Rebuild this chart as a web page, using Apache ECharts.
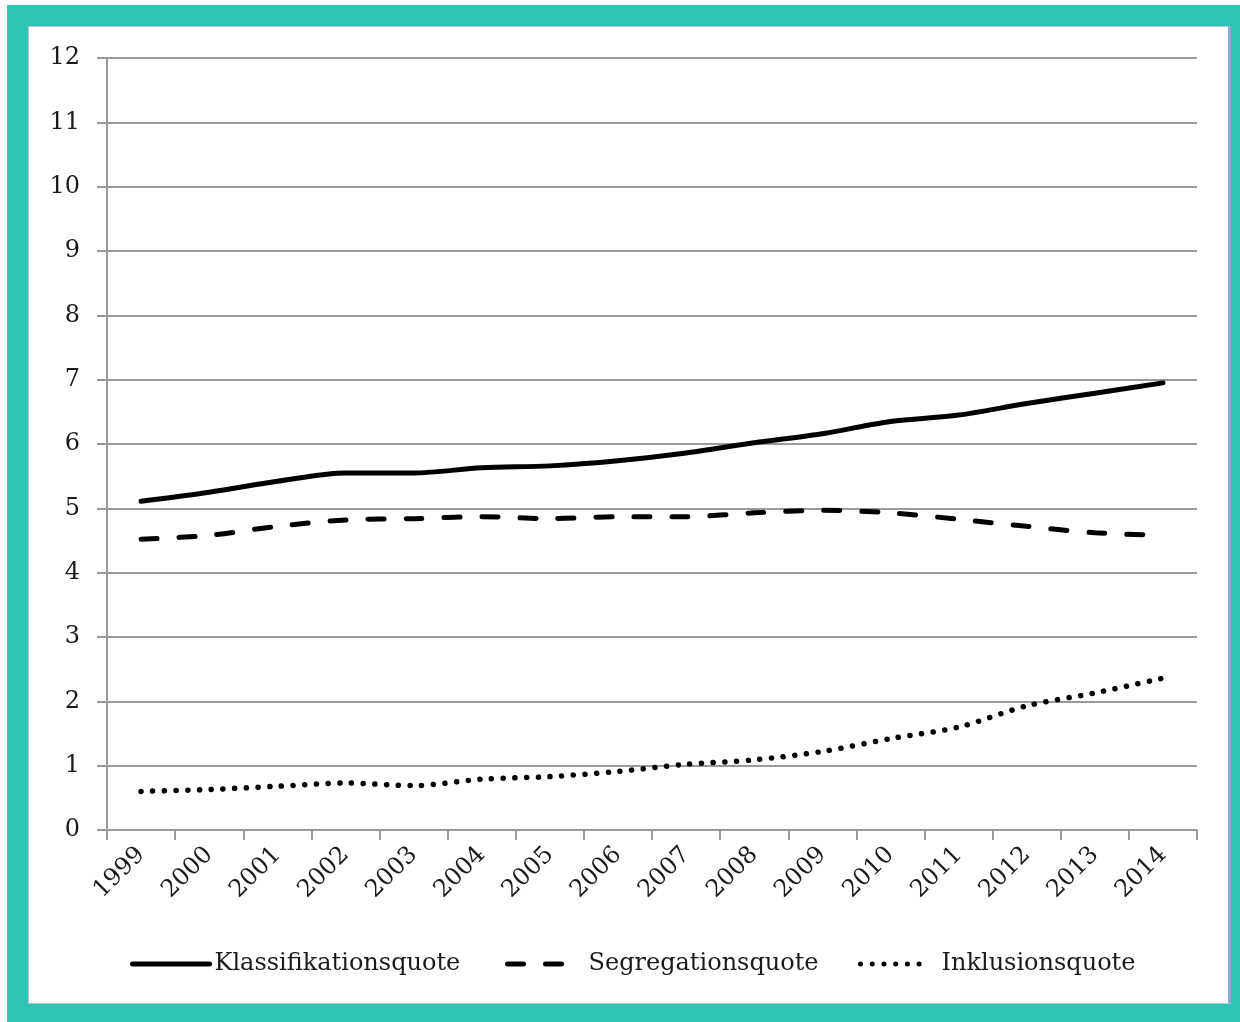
<!DOCTYPE html>
<html>
<head>
<meta charset="utf-8">
<script src="https://cdn.jsdelivr.net/npm/echarts@6/dist/echarts.min.js"></script>
<style>
  html, body { margin: 0; padding: 0; background: #ffffff; }
  #frame {
    position: absolute; left: 7px; top: 5px; width: 1233px; height: 1017px;
    background: #2ec4b4;
  }
  #panel {
    position: absolute; left: 21px; top: 21px; width: 1199px; height: 976px;
    background: #ffffff; border: 1px solid #b4c0e6; border-right: 3px solid #93a6d8;
  }
  #chart { position: absolute; left: 0; top: 0; width: 1199px; height: 976px; }
</style>
</head>
<body>
<div id="frame"><div id="panel"><div id="chart"></div></div></div>
<script>
// Jahre der Zeitreihe
const years = ['1999','2000','2001','2002','2003','2004','2005','2006','2007','2008','2009','2010','2011','2012','2013','2014'];
// Quoten in Prozent
const klassifikation = [5.11, 5.25, 5.42, 5.55, 5.55, 5.63, 5.66, 5.74, 5.86, 6.02, 6.16, 6.35, 6.45, 6.63, 6.79, 6.95];
const segregation    = [4.52, 4.58, 4.72, 4.82, 4.84, 4.87, 4.84, 4.87, 4.87, 4.93, 4.97, 4.93, 4.83, 4.72, 4.62, 4.58];
const inklusion      = [0.60, 0.63, 0.68, 0.73, 0.69, 0.79, 0.83, 0.91, 1.02, 1.09, 1.22, 1.42, 1.60, 1.93, 2.13, 2.36];
const yTicks = [0, 12, 1]; // min, max, interval

const FONT = 'DejaVu Serif';
const chart = echarts.init(document.getElementById('chart'));

// one legend block per series so each entry sits at its own spot
function legendFor(name, left, iconWidth, textGap) {
  return {
    data: [name], left: left, top: 925, orient: 'horizontal', padding: 0,
    itemWidth: iconWidth, itemHeight: 14, itemGap: 0,
    itemStyle: { opacity: 0 },
    lineStyle: { width: 5 },
    textStyle: { fontFamily: FONT, fontSize: 24, color: '#1a1a1a', padding: [0, 0, 0, textGap] },
    selectedMode: false
  };
}

chart.setOption({
  animation: false,
  grid: { left: 78, top: 31, width: 1090, height: 772, containLabel: false },
  legend: [
    legendFor('Klassifikationsquote', 101, 77, 0),
    legendFor('Segregationsquote', 476, 65, 11),
    legendFor('Inklusionsquote', 829, 64, 12)
  ],
  xAxis: {
    type: 'category', data: years, boundaryGap: true,
    axisLine: { lineStyle: { color: '#9a9a9a', width: 2 } },
    axisTick: { show: true, length: 10, lineStyle: { color: '#9a9a9a', width: 2 } },
    axisLabel: { rotate: 45, margin: 21, fontFamily: FONT, fontSize: 24, color: '#1a1a1a' },
    splitLine: { show: false }
  },
  yAxis: {
    type: 'value', min: yTicks[0], max: yTicks[1], interval: yTicks[2],
    axisLine: { show: true, lineStyle: { color: '#9a9a9a', width: 2 } },
    axisTick: { show: true, length: 10, lineStyle: { color: '#9a9a9a', width: 2 } },
    axisLabel: { margin: 27, fontFamily: FONT, fontSize: 24, color: '#1a1a1a' },
    splitLine: { show: true, lineStyle: { color: '#9a9a9a', width: 2 } }
  },
  series: [
    {
      name: 'Klassifikationsquote', type: 'line', data: klassifikation,
      symbol: 'none', smooth: 0.3,
      lineStyle: { color: '#000000', width: 5, cap: 'round' },
      itemStyle: { color: '#000000' }
    },
    {
      name: 'Segregationsquote', type: 'line', data: segregation,
      symbol: 'none', smooth: 0.3,
      lineStyle: { color: '#000000', width: 5, type: [16, 22], cap: 'round' },
      itemStyle: { color: '#000000' }
    },
    {
      name: 'Inklusionsquote', type: 'line', data: inklusion,
      symbol: 'none', smooth: 0.3,
      lineStyle: { color: '#000000', width: 5.5, type: [0.1, 11.6], cap: 'round' },
      itemStyle: { color: '#000000' }
    }
  ]
});
</script>
</body>
</html>
